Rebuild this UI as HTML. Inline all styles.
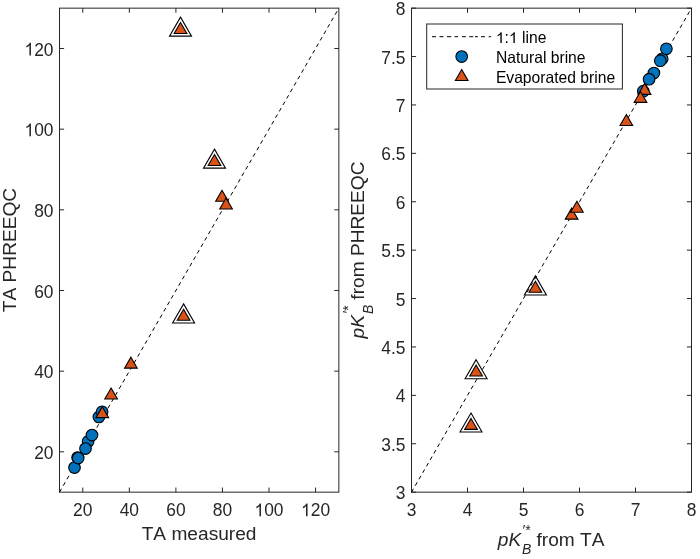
<!DOCTYPE html>
<html><head><meta charset="utf-8"><style>
html,body{margin:0;padding:0;background:#fff;width:700px;height:559px;overflow:hidden}
svg{display:block;will-change:transform}
text{font-family:"Liberation Sans",sans-serif;fill:#262626;font-kerning:none}
.tk{font-size:17.4px}
.lb{font-size:19.14px}
.lg{font-size:15.66px;fill:#000}
.ss{font-size:14px}
</style></head><body>
<svg width="700" height="559" viewBox="0 0 700 559">
<rect width="700" height="559" fill="#fff"/>
<rect x="59.50" y="8.15" width="279.35" height="484.00" fill="none" stroke="#262626" stroke-width="1.00"/>
<line x1="82.78" y1="492.15" x2="82.78" y2="487.55" stroke="#262626" stroke-width="1.00"/>
<line x1="82.78" y1="8.15" x2="82.78" y2="12.75" stroke="#262626" stroke-width="1.00"/>
<line x1="129.34" y1="492.15" x2="129.34" y2="487.55" stroke="#262626" stroke-width="1.00"/>
<line x1="129.34" y1="8.15" x2="129.34" y2="12.75" stroke="#262626" stroke-width="1.00"/>
<line x1="175.90" y1="492.15" x2="175.90" y2="487.55" stroke="#262626" stroke-width="1.00"/>
<line x1="175.90" y1="8.15" x2="175.90" y2="12.75" stroke="#262626" stroke-width="1.00"/>
<line x1="222.45" y1="492.15" x2="222.45" y2="487.55" stroke="#262626" stroke-width="1.00"/>
<line x1="222.45" y1="8.15" x2="222.45" y2="12.75" stroke="#262626" stroke-width="1.00"/>
<line x1="269.01" y1="492.15" x2="269.01" y2="487.55" stroke="#262626" stroke-width="1.00"/>
<line x1="269.01" y1="8.15" x2="269.01" y2="12.75" stroke="#262626" stroke-width="1.00"/>
<line x1="315.57" y1="492.15" x2="315.57" y2="487.55" stroke="#262626" stroke-width="1.00"/>
<line x1="315.57" y1="8.15" x2="315.57" y2="12.75" stroke="#262626" stroke-width="1.00"/>
<line x1="59.50" y1="451.82" x2="64.10" y2="451.82" stroke="#262626" stroke-width="1.00"/>
<line x1="338.85" y1="451.82" x2="334.25" y2="451.82" stroke="#262626" stroke-width="1.00"/>
<line x1="59.50" y1="371.15" x2="64.10" y2="371.15" stroke="#262626" stroke-width="1.00"/>
<line x1="338.85" y1="371.15" x2="334.25" y2="371.15" stroke="#262626" stroke-width="1.00"/>
<line x1="59.50" y1="290.48" x2="64.10" y2="290.48" stroke="#262626" stroke-width="1.00"/>
<line x1="338.85" y1="290.48" x2="334.25" y2="290.48" stroke="#262626" stroke-width="1.00"/>
<line x1="59.50" y1="209.82" x2="64.10" y2="209.82" stroke="#262626" stroke-width="1.00"/>
<line x1="338.85" y1="209.82" x2="334.25" y2="209.82" stroke="#262626" stroke-width="1.00"/>
<line x1="59.50" y1="129.15" x2="64.10" y2="129.15" stroke="#262626" stroke-width="1.00"/>
<line x1="338.85" y1="129.15" x2="334.25" y2="129.15" stroke="#262626" stroke-width="1.00"/>
<line x1="59.50" y1="48.48" x2="64.10" y2="48.48" stroke="#262626" stroke-width="1.00"/>
<line x1="338.85" y1="48.48" x2="334.25" y2="48.48" stroke="#262626" stroke-width="1.00"/>
<g transform="translate(73.10,516.35) scale(1,1.065)"><text x="0" y="0" class="tk">20</text></g>
<g transform="translate(119.66,516.35) scale(1,1.065)"><text x="0" y="0" class="tk">40</text></g>
<g transform="translate(166.22,516.35) scale(1,1.065)"><text x="0" y="0" class="tk">60</text></g>
<g transform="translate(212.78,516.35) scale(1,1.065)"><text x="0" y="0" class="tk">80</text></g>
<g transform="translate(254.50,516.35) scale(1,1.065)"><text x="0" y="0" class="tk"> 00</text><path transform="translate(0.00,0) scale(0.00850,-0.00850)" d="M763 0L583 0L583 1102Q518 1042 413 983Q308 924 221 894L221 1061Q366 1126 475 1220Q584 1313 629 1409L763 1409Z" fill="#262626"/></g>
<g transform="translate(301.06,516.35) scale(1,1.065)"><text x="0" y="0" class="tk"> 20</text><path transform="translate(0.00,0) scale(0.00850,-0.00850)" d="M763 0L583 0L583 1102Q518 1042 413 983Q308 924 221 894L221 1061Q366 1126 475 1220Q584 1313 629 1409L763 1409Z" fill="#262626"/></g>
<g transform="translate(34.15,458.87) scale(1,1.065)"><text x="0" y="0" class="tk">20</text></g>
<g transform="translate(34.15,378.20) scale(1,1.065)"><text x="0" y="0" class="tk">40</text></g>
<g transform="translate(34.15,297.53) scale(1,1.065)"><text x="0" y="0" class="tk">60</text></g>
<g transform="translate(34.15,216.87) scale(1,1.065)"><text x="0" y="0" class="tk">80</text></g>
<g transform="translate(24.47,136.20) scale(1,1.065)"><text x="0" y="0" class="tk"> 00</text><path transform="translate(0.00,0) scale(0.00850,-0.00850)" d="M763 0L583 0L583 1102Q518 1042 413 983Q308 924 221 894L221 1061Q366 1126 475 1220Q584 1313 629 1409L763 1409Z" fill="#262626"/></g>
<g transform="translate(24.47,55.53) scale(1,1.065)"><text x="0" y="0" class="tk"> 20</text><path transform="translate(0.00,0) scale(0.00850,-0.00850)" d="M763 0L583 0L583 1102Q518 1042 413 983Q308 924 221 894L221 1061Q366 1126 475 1220Q584 1313 629 1409L763 1409Z" fill="#262626"/></g>
<rect x="411.50" y="8.15" width="280.00" height="484.00" fill="none" stroke="#262626" stroke-width="1.00"/>
<line x1="411.50" y1="492.15" x2="411.50" y2="487.55" stroke="#262626" stroke-width="1.00"/>
<line x1="411.50" y1="8.15" x2="411.50" y2="12.75" stroke="#262626" stroke-width="1.00"/>
<line x1="467.50" y1="492.15" x2="467.50" y2="487.55" stroke="#262626" stroke-width="1.00"/>
<line x1="467.50" y1="8.15" x2="467.50" y2="12.75" stroke="#262626" stroke-width="1.00"/>
<line x1="523.50" y1="492.15" x2="523.50" y2="487.55" stroke="#262626" stroke-width="1.00"/>
<line x1="523.50" y1="8.15" x2="523.50" y2="12.75" stroke="#262626" stroke-width="1.00"/>
<line x1="579.50" y1="492.15" x2="579.50" y2="487.55" stroke="#262626" stroke-width="1.00"/>
<line x1="579.50" y1="8.15" x2="579.50" y2="12.75" stroke="#262626" stroke-width="1.00"/>
<line x1="635.50" y1="492.15" x2="635.50" y2="487.55" stroke="#262626" stroke-width="1.00"/>
<line x1="635.50" y1="8.15" x2="635.50" y2="12.75" stroke="#262626" stroke-width="1.00"/>
<line x1="691.50" y1="492.15" x2="691.50" y2="487.55" stroke="#262626" stroke-width="1.00"/>
<line x1="691.50" y1="8.15" x2="691.50" y2="12.75" stroke="#262626" stroke-width="1.00"/>
<line x1="411.50" y1="492.15" x2="416.10" y2="492.15" stroke="#262626" stroke-width="1.00"/>
<line x1="691.50" y1="492.15" x2="686.90" y2="492.15" stroke="#262626" stroke-width="1.00"/>
<line x1="411.50" y1="443.75" x2="416.10" y2="443.75" stroke="#262626" stroke-width="1.00"/>
<line x1="691.50" y1="443.75" x2="686.90" y2="443.75" stroke="#262626" stroke-width="1.00"/>
<line x1="411.50" y1="395.35" x2="416.10" y2="395.35" stroke="#262626" stroke-width="1.00"/>
<line x1="691.50" y1="395.35" x2="686.90" y2="395.35" stroke="#262626" stroke-width="1.00"/>
<line x1="411.50" y1="346.95" x2="416.10" y2="346.95" stroke="#262626" stroke-width="1.00"/>
<line x1="691.50" y1="346.95" x2="686.90" y2="346.95" stroke="#262626" stroke-width="1.00"/>
<line x1="411.50" y1="298.55" x2="416.10" y2="298.55" stroke="#262626" stroke-width="1.00"/>
<line x1="691.50" y1="298.55" x2="686.90" y2="298.55" stroke="#262626" stroke-width="1.00"/>
<line x1="411.50" y1="250.15" x2="416.10" y2="250.15" stroke="#262626" stroke-width="1.00"/>
<line x1="691.50" y1="250.15" x2="686.90" y2="250.15" stroke="#262626" stroke-width="1.00"/>
<line x1="411.50" y1="201.75" x2="416.10" y2="201.75" stroke="#262626" stroke-width="1.00"/>
<line x1="691.50" y1="201.75" x2="686.90" y2="201.75" stroke="#262626" stroke-width="1.00"/>
<line x1="411.50" y1="153.35" x2="416.10" y2="153.35" stroke="#262626" stroke-width="1.00"/>
<line x1="691.50" y1="153.35" x2="686.90" y2="153.35" stroke="#262626" stroke-width="1.00"/>
<line x1="411.50" y1="104.95" x2="416.10" y2="104.95" stroke="#262626" stroke-width="1.00"/>
<line x1="691.50" y1="104.95" x2="686.90" y2="104.95" stroke="#262626" stroke-width="1.00"/>
<line x1="411.50" y1="56.55" x2="416.10" y2="56.55" stroke="#262626" stroke-width="1.00"/>
<line x1="691.50" y1="56.55" x2="686.90" y2="56.55" stroke="#262626" stroke-width="1.00"/>
<line x1="411.50" y1="8.15" x2="416.10" y2="8.15" stroke="#262626" stroke-width="1.00"/>
<line x1="691.50" y1="8.15" x2="686.90" y2="8.15" stroke="#262626" stroke-width="1.00"/>
<g transform="translate(406.66,516.35) scale(1,1.065)"><text x="0" y="0" class="tk">3</text></g>
<g transform="translate(462.66,516.35) scale(1,1.065)"><text x="0" y="0" class="tk">4</text></g>
<g transform="translate(518.66,516.35) scale(1,1.065)"><text x="0" y="0" class="tk">5</text></g>
<g transform="translate(574.66,516.35) scale(1,1.065)"><text x="0" y="0" class="tk">6</text></g>
<g transform="translate(630.66,516.35) scale(1,1.065)"><text x="0" y="0" class="tk">7</text></g>
<g transform="translate(686.66,516.35) scale(1,1.065)"><text x="0" y="0" class="tk">8</text></g>
<g transform="translate(395.82,499.20) scale(1,1.065)"><text x="0" y="0" class="tk">3</text></g>
<g transform="translate(381.31,450.80) scale(1,1.065)"><text x="0" y="0" class="tk">3.5</text></g>
<g transform="translate(395.82,402.40) scale(1,1.065)"><text x="0" y="0" class="tk">4</text></g>
<g transform="translate(381.31,354.00) scale(1,1.065)"><text x="0" y="0" class="tk">4.5</text></g>
<g transform="translate(395.82,305.60) scale(1,1.065)"><text x="0" y="0" class="tk">5</text></g>
<g transform="translate(381.31,257.20) scale(1,1.065)"><text x="0" y="0" class="tk">5.5</text></g>
<g transform="translate(395.82,208.80) scale(1,1.065)"><text x="0" y="0" class="tk">6</text></g>
<g transform="translate(381.31,160.40) scale(1,1.065)"><text x="0" y="0" class="tk">6.5</text></g>
<g transform="translate(395.82,112.00) scale(1,1.065)"><text x="0" y="0" class="tk">7</text></g>
<g transform="translate(381.31,63.60) scale(1,1.065)"><text x="0" y="0" class="tk">7.5</text></g>
<g transform="translate(395.82,15.20) scale(1,1.065)"><text x="0" y="0" class="tk">8</text></g>
<line x1="59.50" y1="492.15" x2="338.85" y2="8.15" stroke="#000" stroke-width="1" stroke-dasharray="3.9 3.55"/>
<line x1="411.50" y1="492.15" x2="691.50" y2="8.15" stroke="#000" stroke-width="1" stroke-dasharray="3.9 3.55"/>
<circle cx="74.50" cy="467.60" r="5.80" fill="#0072BD" stroke="#000" stroke-width="1.10"/>
<circle cx="77.60" cy="457.50" r="5.80" fill="#0072BD" stroke="#000" stroke-width="1.10"/>
<circle cx="78.20" cy="458.10" r="5.80" fill="#0072BD" stroke="#000" stroke-width="1.10"/>
<circle cx="88.10" cy="441.40" r="5.80" fill="#0072BD" stroke="#000" stroke-width="1.10"/>
<circle cx="85.50" cy="448.60" r="5.80" fill="#0072BD" stroke="#000" stroke-width="1.10"/>
<circle cx="92.00" cy="435.10" r="5.80" fill="#0072BD" stroke="#000" stroke-width="1.10"/>
<circle cx="98.90" cy="416.90" r="5.80" fill="#0072BD" stroke="#000" stroke-width="1.10"/>
<circle cx="102.10" cy="411.80" r="5.80" fill="#0072BD" stroke="#000" stroke-width="1.10"/>
<polygon points="102.30,406.70 108.62,417.65 95.98,417.65" fill="#D95319" stroke="#000" stroke-width="1.10" stroke-linejoin="miter"/>
<polygon points="111.10,388.10 117.42,399.05 104.78,399.05" fill="#D95319" stroke="#000" stroke-width="1.10" stroke-linejoin="miter"/>
<polygon points="130.90,357.20 137.22,368.15 124.58,368.15" fill="#D95319" stroke="#000" stroke-width="1.10" stroke-linejoin="miter"/>
<polygon points="183.60,303.90 194.60,322.95 172.60,322.95" fill="none" stroke="#000" stroke-width="1.10" stroke-linejoin="miter"/>
<polygon points="183.60,309.30 189.92,320.25 177.28,320.25" fill="#D95319" stroke="#000" stroke-width="1.10" stroke-linejoin="miter"/>
<polygon points="222.00,190.30 228.32,201.25 215.68,201.25" fill="#D95319" stroke="#000" stroke-width="1.10" stroke-linejoin="miter"/>
<polygon points="226.05,198.10 232.37,209.05 219.73,209.05" fill="#D95319" stroke="#000" stroke-width="1.10" stroke-linejoin="miter"/>
<polygon points="214.50,149.10 225.50,168.15 203.50,168.15" fill="none" stroke="#000" stroke-width="1.10" stroke-linejoin="miter"/>
<polygon points="214.50,154.50 220.82,165.45 208.18,165.45" fill="#D95319" stroke="#000" stroke-width="1.10" stroke-linejoin="miter"/>
<polygon points="180.50,17.10 191.50,36.15 169.50,36.15" fill="none" stroke="#000" stroke-width="1.10" stroke-linejoin="miter"/>
<polygon points="180.50,22.50 186.82,33.45 174.18,33.45" fill="#D95319" stroke="#000" stroke-width="1.10" stroke-linejoin="miter"/>
<circle cx="643.30" cy="91.20" r="5.80" fill="#0072BD" stroke="#000" stroke-width="1.10"/>
<circle cx="653.90" cy="73.00" r="5.80" fill="#0072BD" stroke="#000" stroke-width="1.10"/>
<circle cx="649.10" cy="79.20" r="5.80" fill="#0072BD" stroke="#000" stroke-width="1.10"/>
<circle cx="662.20" cy="58.80" r="5.80" fill="#0072BD" stroke="#000" stroke-width="1.10"/>
<circle cx="660.30" cy="60.70" r="5.80" fill="#0072BD" stroke="#000" stroke-width="1.10"/>
<circle cx="666.40" cy="48.80" r="5.80" fill="#0072BD" stroke="#000" stroke-width="1.10"/>
<polygon points="471.00,413.00 482.00,432.05 460.00,432.05" fill="none" stroke="#000" stroke-width="1.10" stroke-linejoin="miter"/>
<polygon points="471.00,418.40 477.32,429.35 464.68,429.35" fill="#D95319" stroke="#000" stroke-width="1.10" stroke-linejoin="miter"/>
<polygon points="476.10,359.70 487.10,378.75 465.10,378.75" fill="none" stroke="#000" stroke-width="1.10" stroke-linejoin="miter"/>
<polygon points="476.10,365.10 482.42,376.05 469.78,376.05" fill="#D95319" stroke="#000" stroke-width="1.10" stroke-linejoin="miter"/>
<polygon points="535.40,275.90 546.40,294.95 524.40,294.95" fill="none" stroke="#000" stroke-width="1.10" stroke-linejoin="miter"/>
<polygon points="535.40,281.30 541.72,292.25 529.08,292.25" fill="#D95319" stroke="#000" stroke-width="1.10" stroke-linejoin="miter"/>
<polygon points="571.60,208.20 577.92,219.15 565.28,219.15" fill="#D95319" stroke="#000" stroke-width="1.10" stroke-linejoin="miter"/>
<polygon points="576.90,201.30 583.22,212.25 570.58,212.25" fill="#D95319" stroke="#000" stroke-width="1.10" stroke-linejoin="miter"/>
<polygon points="626.35,114.50 632.67,125.45 620.03,125.45" fill="#D95319" stroke="#000" stroke-width="1.10" stroke-linejoin="miter"/>
<polygon points="644.60,83.40 650.92,94.35 638.28,94.35" fill="#D95319" stroke="#000" stroke-width="1.10" stroke-linejoin="miter"/>
<polygon points="640.50,91.40 646.82,102.35 634.18,102.35" fill="#D95319" stroke="#000" stroke-width="1.10" stroke-linejoin="miter"/>
<text x="199.1" y="540.3" text-anchor="middle" class="lb">TA measured</text>
<text transform="translate(15.9,250.0) rotate(-90)" x="0" y="0" text-anchor="middle" class="lb">TA PHREEQC</text>
<text x="497.80" y="545.60" class="lb" font-style="italic">pK</text>
<text x="522.10" y="534.90" class="ss" font-style="italic">&#x2032;*</text>
<text x="522.10" y="554.30" class="ss" font-style="italic">B</text>
<text x="536.56" y="545.60" class="lb">from TA</text>
<g transform="translate(364.0,338.4) rotate(-90)"><text x="0.00" y="0.00" class="lb" font-style="italic">pK</text>
<text x="24.30" y="-10.70" class="ss" font-style="italic">&#x2032;*</text>
<text x="24.30" y="8.70" class="ss" font-style="italic">B</text>
<text x="38.76" y="0.00" class="lb">from PHREEQC</text></g>
<rect x="426.7" y="24.0" width="195.7" height="65.0" fill="#fff" stroke="#262626" stroke-width="1"/>
<path d="M432.0 36.7H436.0 M439.5 36.7H443.5 M447.0 36.7H451.2 M454.5 36.7H458.1 M461.9 36.7H465.9 M469.3 36.7H473.2 M475.0 36.7H477.9 M481.0 36.7H485.0 M488.7 36.7H491.0" stroke="#000" stroke-width="1" fill="none"/>
<circle cx="461.70" cy="56.60" r="5.80" fill="#0072BD" stroke="#000" stroke-width="1.10"/>
<polygon points="461.70,69.50 468.02,80.45 455.38,80.45" fill="#D95319" stroke="#000" stroke-width="1.10" stroke-linejoin="miter"/>
<g transform="translate(495.90,43.00) scale(1,1.000)"><text x="0" y="0" class="lg"> :  line</text><path transform="translate(0.00,0) scale(0.00765,-0.00765)" d="M763 0L583 0L583 1102Q518 1042 413 983Q308 924 221 894L221 1061Q366 1126 475 1220Q584 1313 629 1409L763 1409Z" fill="#000"/><path transform="translate(13.06,0) scale(0.00765,-0.00765)" d="M763 0L583 0L583 1102Q518 1042 413 983Q308 924 221 894L221 1061Q366 1126 475 1220Q584 1313 629 1409L763 1409Z" fill="#000"/></g>
<text x="495.9" y="63.0" class="lg">Natural brine</text>
<text x="495.9" y="83.0" class="lg">Evaporated brine</text>
</svg>
</body></html>
